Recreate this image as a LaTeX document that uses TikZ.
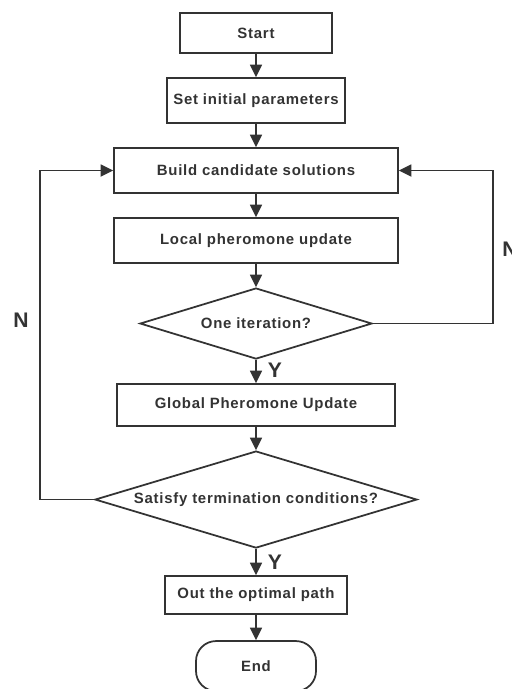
\documentclass[tikz,border=0pt]{standalone}
\usepackage{fontspec}
\setsansfont{Liberation Sans}[LetterSpace=5]
\newfontfamily\labelfont{Liberation Sans}
\usepackage{tikz}
\usetikzlibrary{positioning, arrows.meta, shapes.geometric}
\definecolor{linegray}{HTML}{333333}
\tikzset{
        node distance=0.465cm, % gap between two steps
        proc box/.style={
		draw=linegray,
		line width=1pt,
		text=linegray,
		font=\sffamily\bfseries\fontsize{8.5}{10}\selectfont,
		minimum width={#1cm},
		minimum height={0.9cm},
		inner sep=0pt,
	  },
        test box/.style={
		diamond,
		draw=linegray,
		line width=1pt,
		text=linegray,
		font=\sffamily\bfseries\fontsize{8.5}{10}\selectfont,
		minimum width={#1cm},
		inner sep=0pt,
	  },
  		flow/.style={
		draw=linegray,
		line width=1pt,
		-{Triangle[length=2.5mm,width=2.4mm]},
      },
  		answer/.style={
		text=linegray,
		inner sep=0pt,
		font=\labelfont\bfseries\fontsize{12}{14}\selectfont,
      }
  	}
\begin{document}
\begin{tikzpicture}
    \useasboundingbox (0,0) rectangle (10.22,-13.78);
    \node [proc box=3.04, minimum height=0.8cm] (start) at (5.12,-0.66) {Start};
    \node [proc box=3.56, below=of start] (init) {Set initial parameters};
    \node [proc box=5.68, below=of init] (build) {Build candidate solutions};
    \node [proc box=5.68, below=of build] (local) {Local pheromone update};
    \node [test box=4.64, aspect=3.27, minimum height=1.42cm, below=of local] (iter) {One iteration?};
    \node [proc box=5.56, minimum height=0.84cm, below=of iter] (global) {Global Pheromone Update};
    \node [test box=6.44, aspect=3.32, minimum height=1.94cm, below=of global] (term) {Satisfy termination conditions?};
    \node [proc box=3.64, minimum height=0.76cm, below=of term, yshift=-0.06cm] (out) {Out the optimal path};
    \node [proc box=2.4, minimum height=1cm, rounded corners=0.4cm, below=of out, yshift=-0.04cm] (stop) {End};
    \draw [flow] (start) -- (init);
    \draw [flow] (init) -- (build);
    \draw [flow] (build) -- (local);
    \draw [flow] (local) -- (iter);
    \draw [flow] (iter) -- (global);
    \draw [flow] (global) -- (term);
    \draw [flow] (term) -- (out);
    \draw [flow] (out) -- (stop);
    \draw [flow] (iter.east) -- ++(2.4,0) |- (build.east);
    \draw [flow] (term.west) -- ++(-1.08,0) |- (build.west);
    \node [answer, anchor=west] (n1) at (10.04,-4.98) {N};
    \node [answer] (n2) at (0.42,-6.4) {N};
    \node [answer] (y1) at (5.5,-7.4) {Y};
    \node [answer] (y2) at (5.5,-11.24) {Y};
  \end{tikzpicture}
\end{document}
